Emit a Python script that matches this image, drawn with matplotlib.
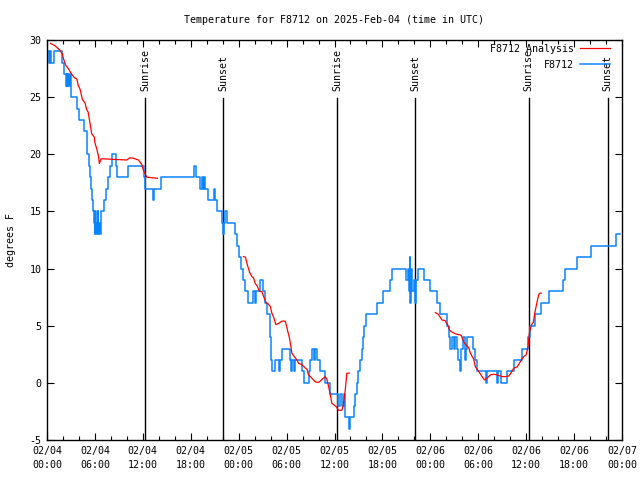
import matplotlib
matplotlib.use("Agg")
import matplotlib.pyplot as plt
from matplotlib.ticker import MultipleLocator

# ---- data (hours since 02/04 00:00 UTC) ----
obs_hours = [0.1, 0.25, 0.4, 0.55, 0.92, 1.85, 2.15, 2.35, 2.45, 2.55, 2.65, 2.75, 2.85, 2.95,
             3.05, 3.8, 4.05, 4.65, 4.95, 5.05, 5.2, 5.35, 5.5, 5.65, 5.75, 5.85, 5.95, 6.05,
             6.1, 6.2, 6.3, 6.35, 6.4, 6.5, 6.6, 6.7, 6.8, 7.1, 7.4, 7.6, 7.9, 8.1, 8.6, 8.8,
             9.1, 10.2, 12.1, 12.3, 13.24, 13.45, 14.3, 18.42, 18.7, 19.17, 19.38, 19.5, 19.66,
             19.8, 20.2, 20.85, 21.06, 21.27, 21.9, 22.0, 22.15, 22.3, 22.5, 23.6, 23.8, 24.0,
             24.3, 24.6, 24.8, 25.2, 25.78, 26.07, 26.2, 26.7, 27.1, 27.32, 27.53, 27.95, 28.03,
             28.16, 28.57, 29.0, 29.2, 29.4, 30.45, 30.54, 30.66, 30.87, 31.08, 31.9, 32.2,
             32.76, 32.97, 33.17, 33.38, 33.6, 33.8, 34.2, 34.84, 35.47, 36.5, 36.7, 36.9,
             37.13, 37.35, 37.8, 37.97, 38.18, 38.4, 38.6, 38.8, 39.0, 39.2, 39.4, 39.56,
             39.64, 39.98, 41.3, 42.07, 42.9, 43.2, 45.0, 45.15, 45.3, 45.4, 45.5, 45.6,
             45.75, 45.9, 46.1, 46.2, 46.4, 47.17, 47.92, 48.84, 49.25, 50.1, 50.3, 50.5,
             50.7, 50.92, 51.1, 51.3, 51.5, 51.7, 51.9, 52.05, 52.3, 52.45, 52.6, 53.4, 53.6,
             53.85, 54.98, 55.1, 56.3, 56.5, 56.9, 57.6, 58.44, 59.5, 60.25, 60.53, 61.08,
             61.9, 62.9, 64.58, 64.92, 66.38, 68.18, 71.2, 71.8]
obs_temps = [29, 28, 29, 28, 29, 28, 27, 26, 27, 26, 27, 26, 27, 26,
             25, 24, 23, 22, 21, 20, 19, 18, 17, 16, 15, 14, 13, 15,
             14, 13, 14, 15, 13, 14, 13, 14, 15, 16, 17, 18, 19, 20, 19, 18,
             18, 19, 18, 17, 16, 17, 18, 19, 18, 17, 18, 17, 18,
             17, 16, 17, 16, 15, 14, 13, 14, 15, 14, 13, 12, 11,
             10, 9, 8, 7, 8, 7, 8, 9, 8, 7, 6, 4, 2,
             1, 2, 1, 2, 3, 2, 1, 2, 1, 2, 1, 0,
             1, 2, 3, 2, 3, 2, 1, 0, -1, -2, -1, -2,
             -1, -3, -4, -3, -3, -2, -1, 0, 1, 2, 3, 4,
             5, 6, 7, 8, 9, 10, 9, 10, 8, 11, 7, 10,
             8, 9, 7, 9, 10, 9, 8, 7, 6, 5, 4, 3,
             4, 3, 4, 3, 2, 1, 3, 4, 2, 3, 4, 3, 2,
             1, 0, 1, 0, 1, 0, 1, 2, 3, 4, 5, 6,
             7, 8, 9, 10, 11, 12, 13, 13]

ana1_hours = [0.45, 1.0, 1.63, 1.92, 2.05, 2.34, 2.67, 3.0, 3.43, 3.72, 3.93, 4.14, 4.43, 4.76,
              4.97, 5.15, 5.39, 5.6, 5.93, 6.0, 6.22, 6.43, 6.56, 6.77, 7.06, 9.98, 10.4,
              10.82, 11.45, 11.87, 12.07, 12.28, 12.5, 13.82]
ana1_temps = [29.7, 29.5, 29.1, 28.8, 28.4, 27.8, 27.5, 27.1, 26.7, 26.6, 26.0, 25.7, 24.8, 24.5,
              23.9, 23.7, 22.7, 21.8, 21.5, 21.0, 20.5, 19.9, 19.2, 19.6, 19.6, 19.5, 19.7,
              19.65, 19.5, 19.1, 18.6, 18.3, 18.0, 17.9]
ana2_hours = [24.6, 24.85, 25.1, 25.36, 25.65, 25.85, 26.07, 26.3, 26.61, 26.9, 27.1, 27.45, 27.7,
              27.95, 28.16, 28.4, 28.66, 29.0, 29.41, 29.83, 29.95, 30.12, 30.37, 30.54, 30.66,
              30.96, 31.3, 31.5, 31.92, 32.33, 32.55, 32.75, 33.17, 33.59, 33.88, 34.13, 34.43,
              34.84, 35.05, 35.26, 35.47, 35.68, 35.9, 36.22, 36.51, 36.93, 37.13, 37.35, 37.55,
              37.85]
ana2_temps = [11.05, 11.0, 10.3, 9.7, 9.3, 9.2, 8.7, 8.5, 8.0, 8.0, 7.6, 7.0, 6.9,
              6.7, 6.1, 5.7, 5.1, 5.2, 5.4, 5.4, 5.1, 4.6, 3.9, 3.2, 2.6,
              2.3, 2.0, 1.7, 1.6, 1.3, 1.2, 0.7, 0.4, 0.1, 0.03, 0.1, 0.3,
              0.55, 0.3, -0.3, -1.05, -1.8, -1.9, -2.1, -2.4, -2.4, -1.8, -0.6, 0.85,
              0.85]
ana3_hours = [48.63, 49.0, 49.46, 49.85, 50.17, 50.42, 50.7, 51.13, 51.35, 51.76, 51.9, 52.18,
              52.6, 52.8, 53.01, 53.43, 53.64, 54.06, 54.48, 54.77, 55.1, 55.52, 55.94, 56.36,
              56.99, 57.4, 57.82, 58.03, 58.44, 58.87, 59.28, 59.7, 60.0, 60.25, 60.4, 60.66,
              60.9, 61.08, 61.25, 61.37, 61.57, 61.7, 61.91]
ana3_temps = [6.15, 6.0, 5.5, 5.45, 5.07, 4.6, 4.45, 4.3, 4.25, 4.2, 4.1, 3.6,
              3.2, 3.1, 2.6, 2.07, 1.4, 1.0, 0.55, 0.26, 0.4, 0.7, 0.75, 0.7,
              0.55, 0.55, 0.6, 0.8, 1.28, 1.4, 1.86, 2.3, 2.45, 3.2, 4.35, 5.07,
              5.3, 6.1, 6.7, 7.1, 7.7, 7.85, 7.85]

sun_hours = [12.32, 22.06, 36.35, 46.13, 60.3, 70.2]
sun_labels = ["Sunrise", "Sunset", "Sunrise", "Sunset", "Sunrise", "Sunset"]

xtick_hours = list(range(0, 73, 6))
xtick_labels = ["02/04\n00:00", "02/04\n06:00", "02/04\n12:00", "02/04\n18:00",
                "02/05\n00:00", "02/05\n06:00", "02/05\n12:00", "02/05\n18:00",
                "02/06\n00:00", "02/06\n06:00", "02/06\n12:00", "02/06\n18:00",
                "02/07\n00:00"]
ytick_vals = [-5, 0, 5, 10, 15, 20, 25, 30]
ytick_labels = ["-5", "0", "5", "10", "15", "20", "25", "30"]

# ---- drawing ----
FONT = "DejaVu Sans Mono"
FS = 7.2
plt.rcParams["font.family"] = [FONT]
plt.rcParams["font.size"] = FS

fig = plt.figure(figsize=(6.4, 4.8), dpi=100)
ax = fig.add_axes([47 / 640, 1 - 440 / 480, (622 - 47) / 640, 400 / 480])

RED = "#ff0000"
BLUE = "#0a84ff"

for hx, lab in zip(sun_hours, sun_labels):
    ax.axvline(hx, ymin=0, ymax=0.855, color="black", lw=1.0, zorder=1)
    ax.text(hx, 0.872, lab, transform=ax.get_xaxis_transform(), rotation=90,
            ha="center", va="bottom", fontsize=FS, zorder=1)

ax.plot(ana1_hours, ana1_temps, color=RED, lw=0.9, label="F8712 Analysis", zorder=3)
ax.plot(ana2_hours, ana2_temps, color=RED, lw=0.9, zorder=3)
ax.plot(ana3_hours, ana3_temps, color=RED, lw=0.9, zorder=3)
ax.plot(obs_hours, obs_temps, color=BLUE, lw=1.1, drawstyle="steps-post", label="F8712", zorder=2)

ax.set_xlim(0, 72)
ax.set_ylim(-5, 30)
ax.set_xticks(xtick_hours)
ax.set_xticklabels(xtick_labels, fontsize=FS, linespacing=1.5)
ax.xaxis.set_minor_locator(MultipleLocator(2))
ax.set_yticks(ytick_vals)
ax.set_yticklabels(ytick_labels, fontsize=FS)
ax.tick_params(axis="both", which="major", direction="in", length=5, width=0.8,
               top=True, right=True, pad=4)
ax.tick_params(axis="x", which="minor", direction="in", length=3, width=0.8, top=True)
for sp in ax.spines.values():
    sp.set_linewidth(1.0)

ax.set_ylabel("degrees F", fontsize=FS, labelpad=10)
ax.set_title("Temperature for F8712 on 2025-Feb-04 (time in UTC)", fontsize=FS, pad=12)

leg = ax.legend(loc="upper right", bbox_to_anchor=((610 - 47) / 575, 0.991),
                frameon=False, markerfirst=False, fontsize=FS,
                handlelength=3.0, handletextpad=0.6, labelspacing=0.6,
                borderaxespad=0.0, borderpad=0.0)

fig.savefig("out.png", dpi=100)
